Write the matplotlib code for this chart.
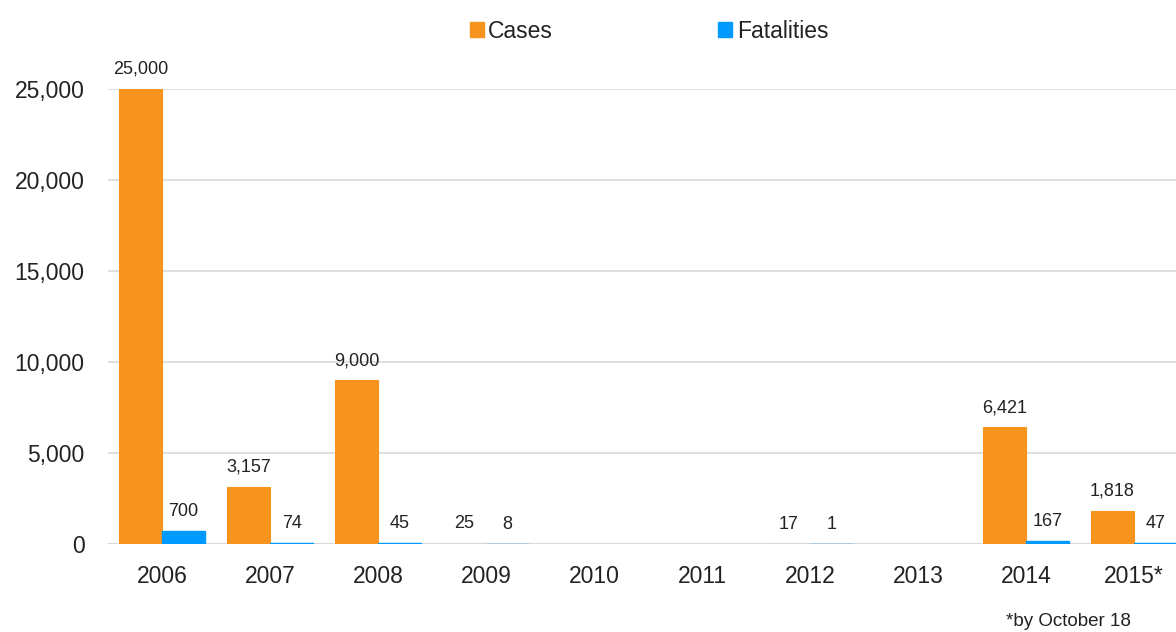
import matplotlib
matplotlib.use("Agg")
import matplotlib.pyplot as plt
from matplotlib.patches import Patch
import numpy as np

years = ["2006", "2007", "2008", "2009", "2010", "2011", "2012", "2013", "2014", "2015*"]
cases = [25000, 3157, 9000, 25, 0, 0, 17, 0, 6421, 1818]
fatalities = [700, 74, 45, 8, 0, 0, 1, 0, 167, 47]
yticks = [0, 5000, 10000, 15000, 20000, 25000]

ORANGE = "#F7941E"
BLUE = "#0099FF"
TEXT = "#222222"
GRID = "#D9D9D9"

plt.rcParams['font.family'] = ['Liberation Sans', 'DejaVu Sans']

W, H = 1176, 632
fig = plt.figure(figsize=(W / 100, H / 100), dpi=100)
ax = fig.add_axes([108 / W, (H - 544) / H, (1176 - 108) / W, 455 / H])

x = np.arange(len(years))
bw = 0.4
ax.axhline(0, color=GRID, linewidth=2.2, zorder=2)
ax.bar(x - bw / 2, cases, width=bw, color=ORANGE, edgecolor=ORANGE,
       linewidth=[0.8 if v > 0 else 0 for v in cases], zorder=3)
ax.bar(x + bw / 2, fatalities, width=bw, color=BLUE, edgecolor=BLUE,
       linewidth=[1.0 if v > 0 else 0 for v in fatalities], zorder=3)

for xi, c, f in zip(x, cases, fatalities):
    if c > 0:
        ax.annotate(f"{c:,}", (xi - bw / 2, c), xytext=(0, 8), textcoords="offset points",
                    ha="center", va="bottom", fontsize=13, color=TEXT, annotation_clip=False)
    if f > 0:
        ax.annotate(f"{f:,}", (xi + bw / 2, f), xytext=(0, 8), textcoords="offset points",
                    ha="center", va="bottom", fontsize=13, color=TEXT, annotation_clip=False)

ax.set_xlim(-0.5, -0.5 + (1176 - 108) / 108)
ax.set_ylim(0, 25000)
ax.set_yticks(yticks)
ax.set_yticklabels([f"{v:,}" for v in yticks])
ax.set_xticks(x)
ax.set_xticklabels(years)
ax.tick_params(axis="y", length=0, pad=17, labelsize=16.5, labelcolor=TEXT)
ax.tick_params(axis="x", length=0, pad=15, labelsize=16.5, labelcolor=TEXT)
for s in ax.spines.values():
    s.set_visible(False)
ax.grid(axis="y", color=GRID, linewidth=1.2, zorder=0)
ax.set_axisbelow(True)

handles = [Patch(color=ORANGE, label="Cases"), Patch(color=BLUE, label="Fatalities")]
fig.legend(handles=handles, loc="center", bbox_to_anchor=(649 / W, 1 - 31 / H), ncol=2,
           frameon=False, fontsize=16.5, handlelength=0.62, handleheight=0.62,
           handletextpad=0.2, columnspacing=7.2, labelcolor=TEXT)

fig.text(1131 / W, 1 - 622 / H, "*by October 18", ha="right", va="center", fontsize=13.5, color=TEXT)

fig.savefig("out.png", dpi=100)
